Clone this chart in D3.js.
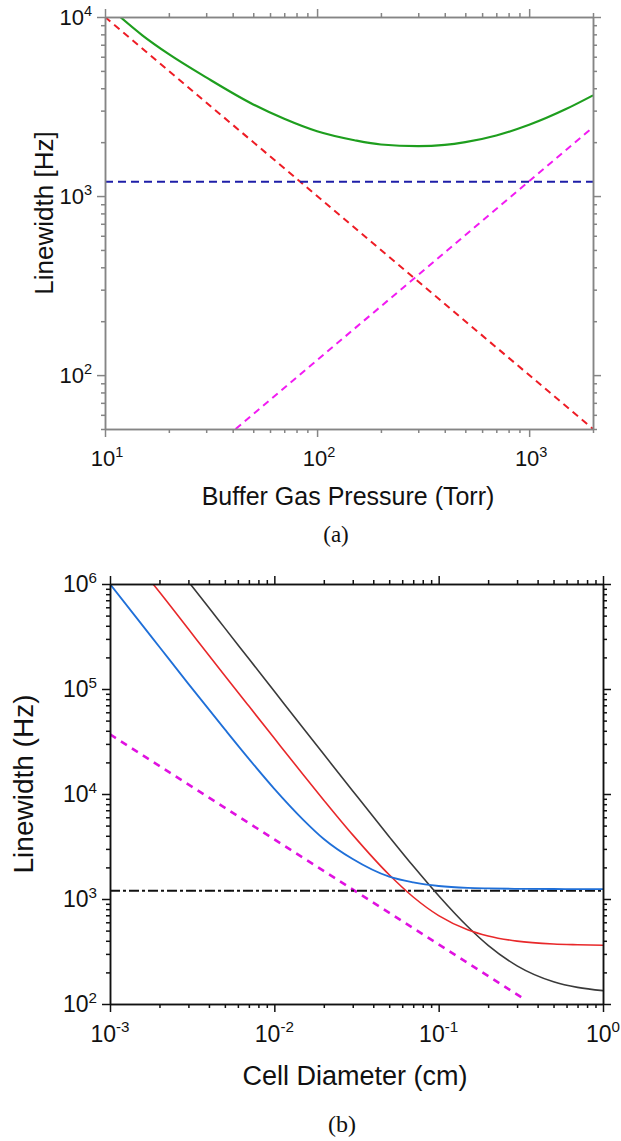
<!DOCTYPE html>
<html>
<head>
<meta charset="utf-8">
<script src="https://cdn.jsdelivr.net/npm/d3@7"></script>
<style>
  body { margin: 0; background: #fff; }
  text { font-family: "Liberation Sans", Arial, sans-serif; }
  .cap { font-family: "Liberation Serif", "Times New Roman", serif; }
</style>
</head>
<body>
<svg id="fig" width="621" height="1141"></svg>
<script>
// ---------- panel (a) data : Buffer gas pressure (Torr) vs linewidth (Hz)
var aMajorX = [10, 100, 1000];
var aMajorY = [100, 1000, 10000];
var aRedP = [10, 2000],   aRedLw = [10000, 50];        // red dashed
var aBlueP = [10, 2000],  aBlueLw = [1200, 1200];      // blue dashed
var aMagP = [41.3, 2000], aMagLw = [50, 2420];         // magenta dashed
var aGreenP  = [11.8, 15, 20, 30, 50, 70, 100, 150, 200, 300, 400, 500, 700, 1000, 1500, 2000];
var aGreenLw = [10000, 7900, 6200, 4600, 3250, 2700, 2300, 2050, 1940, 1900, 1930, 2000, 2180, 2500, 3070, 3650];

// ---------- panel (b) data : cell diameter (cm) vs linewidth (Hz)
var bMajorX = [0.001, 0.01, 0.1, 1];
var bMajorY = [100, 1000, 10000, 100000, 1000000];
var bBlueD  = [0.001, 0.0015, 0.002, 0.003, 0.005, 0.007, 0.01, 0.015, 0.02, 0.03, 0.05, 0.07, 0.1, 0.15, 0.2, 0.3, 0.5, 0.7, 1];
var bBlueLw = [1000000, 445000, 251000, 112000, 41200, 21600, 11200, 5680, 3730, 2400, 1630, 1440, 1330, 1275, 1260, 1250, 1245, 1242, 1240];
var bRedD   = [0.0018, 0.002, 0.003, 0.005, 0.007, 0.01, 0.015, 0.02, 0.03, 0.05, 0.07, 0.1, 0.15, 0.2, 0.3, 0.5, 0.7, 1];
var bRedLw  = [1030000, 838000, 372000, 134000, 68700, 33900, 15250, 8740, 4080, 1700, 1045, 695, 510, 445, 397, 373, 367, 363];
var bBlackD  = [0.00308, 0.004, 0.005, 0.007, 0.01, 0.015, 0.02, 0.03, 0.05, 0.07, 0.1, 0.15, 0.2, 0.3, 0.5, 0.7, 1];
var bBlackLw = [1000000, 594000, 380000, 194000, 95100, 42300, 23900, 10700, 3925, 2060, 1075, 547, 362, 231, 163, 144, 134];
var bMagD = [0.001, 0.33],  bMagLw = [37000, 112];     // magenta dashed
var bDotD = [0.001, 1],     bDotLw = [1200, 1200];     // black dash-dot

var svg = d3.select("#fig");

function zip(xs, ys) { return xs.map(function(v, i) { return [v, ys[i]]; }); }

function makePanel(opt) {
  var w = opt.width, h = opt.height;
  var g = svg.append("g").attr("transform", "translate(" + opt.left + "," + opt.top + ")");

  var x = d3.scaleLog().domain(opt.xDomain).range([0, w]);
  var y = d3.scaleLog().domain(opt.yDomain).range([h, 0]);

  var minorX = x.ticks().filter(function(t) { return opt.majorX.indexOf(t) < 0; });
  var minorY = y.ticks().filter(function(t) { return opt.majorY.indexOf(t) < 0; });

  g.append("clipPath").attr("id", opt.id + "clip")
    .append("rect").attr("width", w).attr("height", h);

  var plot = g.append("g").attr("clip-path", "url(#" + opt.id + "clip)");
  var line = d3.line()
    .x(function(d) { return x(d[0]); })
    .y(function(d) { return y(d[1]); })
    .curve(d3.curveMonotoneX);

  opt.series.forEach(function(s) {
    plot.append("path")
      .datum(zip(s.x, s.y))
      .attr("fill", "none")
      .attr("stroke", s.color)
      .attr("stroke-width", s.width)
      .attr("stroke-dasharray", s.dash || null)
      .attr("d", line);
  });

  // four axes, ticks outward, major + minor
  var sides = [
    {f: d3.axisBottom, s: x, t: "translate(0," + h + ")", maj: opt.majorX, min: minorX},
    {f: d3.axisTop,    s: x, t: "translate(0,0)",         maj: opt.majorX, min: minorX},
    {f: d3.axisLeft,   s: y, t: "translate(0,0)",         maj: opt.majorY, min: minorY},
    {f: d3.axisRight,  s: y, t: "translate(" + w + ",0)", maj: opt.majorY, min: minorY}
  ];
  sides.forEach(function(a) {
    var ax = g.append("g").attr("transform", a.t);
    ax.call(a.f(a.s).tickValues(a.min).tickSize(4).tickSizeOuter(0).tickFormat(""));
    ax.append("g").call(a.f(a.s).tickValues(a.maj).tickSize(8).tickSizeOuter(0).tickFormat(""));
    ax.selectAll("path, line").attr("stroke", opt.axisColor).attr("stroke-width", 1.5);
    ax.selectAll("text").remove();
  });

  function pow(sel, v) {
    var e = Math.round(Math.log10(v));
    sel.append("tspan").text("10");
    sel.append("tspan").attr("dy", -opt.tickFont * 0.42).attr("font-size", opt.tickFont * 0.66)
      .text(e < 0 ? "-" + (-e) : e);
  }

  opt.majorX.forEach(function(v) {
    var t = g.append("text")
      .attr("x", x(v) + opt.xTickShift).attr("y", h + opt.xTickDy)
      .attr("text-anchor", "middle")
      .attr("font-size", opt.tickFont).attr("fill", "#111");
    pow(t, v);
  });
  opt.majorY.forEach(function(v) {
    var t = g.append("text")
      .attr("x", opt.yTickDx).attr("y", y(v) + opt.tickFont * 0.36)
      .attr("text-anchor", "end")
      .attr("font-size", opt.tickFont).attr("fill", "#111");
    pow(t, v);
  });

  svg.append("text")
    .attr("x", opt.xLabel.x).attr("y", opt.xLabel.y)
    .attr("text-anchor", "middle").attr("font-size", opt.xLabel.size).attr("fill", "#111")
    .text(opt.xLabel.text);
  svg.append("text")
    .attr("transform", "translate(" + opt.yLabel.x + "," + opt.yLabel.y + ") rotate(-90)")
    .attr("text-anchor", "middle").attr("font-size", opt.yLabel.size).attr("fill", "#111")
    .text(opt.yLabel.text);
  svg.append("text").attr("class", "cap")
    .attr("x", opt.cap.x).attr("y", opt.cap.y)
    .attr("text-anchor", "middle").attr("font-size", opt.cap.size).attr("fill", "#111")
    .text(opt.cap.text);
}

makePanel({
  id: "a", left: 105, top: 17, width: 488, height: 412,
  xDomain: [10, 2000], yDomain: [50, 10000],
  majorX: aMajorX, majorY: aMajorY,
  axisColor: "#858585", tickFont: 22, xTickDy: 37, yTickDx: -13, xTickShift: 2,
  series: [
    {x: aRedP, y: aRedLw, color: "#ee1c25", width: 2, dash: "7,5"},
    {x: aBlueP, y: aBlueLw, color: "#1e1ea8", width: 2, dash: "8,5"},
    {x: aMagP, y: aMagLw, color: "#f21bf2", width: 2, dash: "7,5"},
    {x: aGreenP, y: aGreenLw, color: "#1e9e1e", width: 2.2}
  ],
  xLabel: {text: "Buffer Gas Pressure (Torr)", x: 348, y: 505, size: 25},
  yLabel: {text: "Linewidth [Hz]", x: 53, y: 213, size: 26},
  cap: {text: "(a)", x: 336, y: 542, size: 23}
});

makePanel({
  id: "b", left: 110, top: 584, width: 493, height: 420,
  xDomain: [0.001, 1], yDomain: [100, 1000000],
  majorX: bMajorX, majorY: bMajorY,
  axisColor: "#111", tickFont: 23, xTickDy: 38, yTickDx: -13, xTickShift: 0,
  series: [
    {x: bMagD, y: bMagLw, color: "#e011e0", width: 2.5, dash: "7,6"},
    {x: bDotD, y: bDotLw, color: "#111", width: 2, dash: "10,3,3,3"},
    {x: bBlackD, y: bBlackLw, color: "#3a3a3a", width: 1.6},
    {x: bRedD, y: bRedLw, color: "#e8282a", width: 1.6},
    {x: bBlueD, y: bBlueLw, color: "#1f6fd8", width: 1.8}
  ],
  xLabel: {text: "Cell Diameter (cm)", x: 355, y: 1085, size: 27},
  yLabel: {text: "Linewidth (Hz)", x: 33, y: 784, size: 28},
  cap: {text: "(b)", x: 342, y: 1132, size: 24}
});
</script>
</body>
</html>
